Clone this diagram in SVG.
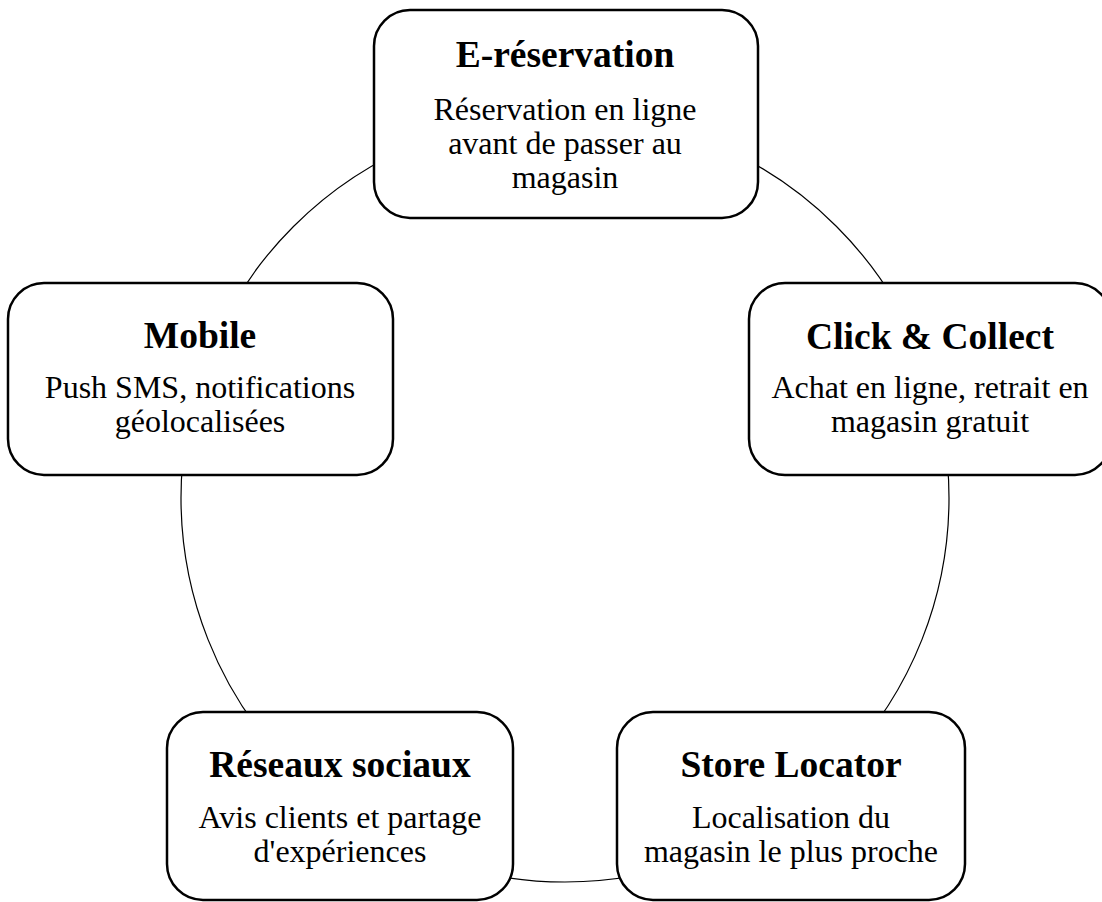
<svg xmlns="http://www.w3.org/2000/svg" width="1102" height="902" viewBox="0 0 1102 902">
<style>
.box{fill:#fff;stroke:#000;stroke-width:2.5}
.ring{fill:none;stroke:#000;stroke-width:1.2}
.t{font-family:'Liberation Serif','Times New Roman',Times,serif;font-weight:bold;font-size:37.5px;text-anchor:middle;fill:#000}
.b{font-family:'Liberation Serif','Times New Roman',Times,serif;font-size:32px;text-anchor:middle;fill:#000}
</style>
<rect width="1102" height="902" fill="#fff"/>
<g id="connectors">
<circle class="ring" cx="565" cy="498" r="384"/>
</g>
<g id="e-reservation">
<rect class="box" x="374" y="10" width="384" height="208" rx="36"/>
<text class="t" x="565" y="67">E-réservation</text>
<text class="b" x="565" y="120">Réservation en ligne</text>
<text class="b" x="565" y="154">avant de passer au</text>
<text class="b" x="565" y="188">magasin</text>
</g>
<g id="click-collect">
<rect class="box" x="749" y="283" width="362" height="192" rx="36"/>
<text class="t" x="930" y="349">Click &amp; Collect</text>
<text class="b" x="930" y="398">Achat en ligne, retrait en</text>
<text class="b" x="930" y="432">magasin gratuit</text>
</g>
<g id="store-locator">
<rect class="box" x="617" y="712" width="348" height="188" rx="36"/>
<text class="t" x="791" y="777">Store Locator</text>
<text class="b" x="791" y="828">Localisation du</text>
<text class="b" x="791" y="862">magasin le plus proche</text>
</g>
<g id="reseaux-sociaux">
<rect class="box" x="167" y="712" width="346" height="188" rx="36"/>
<text class="t" x="340" y="777">Réseaux sociaux</text>
<text class="b" x="340" y="828">Avis clients et partage</text>
<text class="b" x="340" y="862">d'expériences</text>
</g>
<g id="mobile">
<rect class="box" x="8" y="283" width="385" height="192" rx="36"/>
<text class="t" x="200" y="348">Mobile</text>
<text class="b" x="200" y="398">Push SMS, notifications</text>
<text class="b" x="200" y="432">géolocalisées</text>
</g>
</svg>
